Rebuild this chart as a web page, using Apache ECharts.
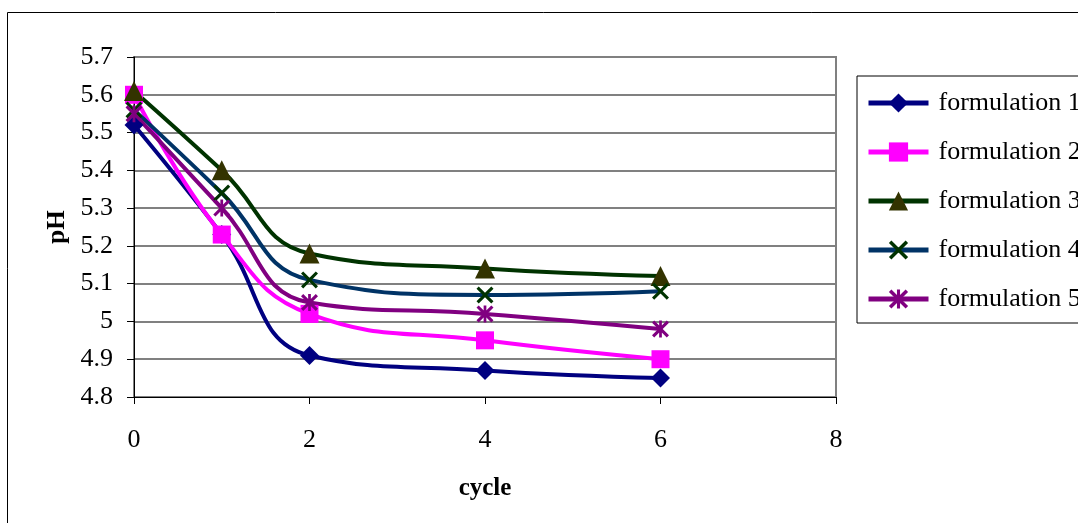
<!DOCTYPE html>
<html>
<head>
<meta charset="utf-8">
<script src="https://cdn.jsdelivr.net/npm/echarts@6/dist/echarts.min.js"></script>
<style>
  html, body { margin: 0; padding: 0; background: #fff; }
  #main { width: 1078px; height: 523px; }
</style>
</head>
<body>
<div id="main"></div>
<script>
// cycle values on the x axis
const cycles = [0, 1, 2, 4, 6];
const names = ['formulation 1', 'formulation 2', 'formulation 3', 'formulation 4', 'formulation 5'];
const f1 = [5.52, 5.23, 4.91, 4.87, 4.85];
const f2 = [5.60, 5.23, 5.02, 4.95, 4.90];
const f3 = [5.61, 5.40, 5.18, 5.14, 5.12];
const f4 = [5.56, 5.34, 5.11, 5.07, 5.08];
const f5 = [5.55, 5.30, 5.05, 5.02, 4.98];

const font = '"Liberation Serif", "Times New Roman", serif';
// x shaped and star shaped markers as filled paths
const xMark = 'path://M0,1.3L1.3,0L5,3.7L8.7,0L10,1.3L6.3,5L10,8.7L8.7,10L5,6.3L1.3,10L0,8.7L3.7,5Z';
const starMark = 'path://M0,1.3L1.3,0L5,3.7L8.7,0L10,1.3L6.3,5L10,8.7L8.7,10L5,6.3L1.3,10L0,8.7L3.7,5Z M4.2,0L5.8,0L5.8,10L4.2,10Z';

function pairs(vals) {
  return cycles.map((c, i) => [c, vals[i]]);
}

const styles = [
  { line: '#000080', mark: '#000080', symbol: 'diamond', size: 19 },
  { line: '#FF00FF', mark: '#FF00FF', symbol: 'rect', size: 18 },
  { line: '#003300', mark: '#333300', symbol: 'triangle', size: 20 },
  { line: '#003366', mark: '#003300', symbol: xMark, size: 17 },
  { line: '#800080', mark: '#800080', symbol: starMark, size: 17 }
];
const values = [f1, f2, f3, f4, f5];

const myChart = echarts.init(document.getElementById('main'));
myChart.setOption({
  animation: false,
  textStyle: { fontFamily: font },
  graphic: [{
    type: 'rect',
    shape: { x: 7.5, y: 12.5, width: 1200, height: 600 },
    style: { fill: 'none', stroke: '#000', lineWidth: 1 },
    silent: true
  }],
  grid: {
    left: 134, top: 57, right: 242, bottom: 126,
    show: true, borderColor: '#808080', borderWidth: 2
  },
  legend: {
    orient: 'vertical',
    left: 857, top: 76,
    data: names,
    itemWidth: 60, itemHeight: 24,
    itemGap: 23,
    padding: [14, 40, 11, 9],
    borderColor: '#000', borderWidth: 1,
    lineStyle: { width: 5 },
    textStyle: { fontFamily: font, fontSize: 26, color: '#000', lineHeight: 26, padding: [0, 0, 0, 5] }
  },
  xAxis: {
    type: 'value',
    min: 0, max: 8, interval: 2,
    name: 'cycle',
    nameLocation: 'middle',
    nameGap: 79,
    nameTextStyle: { fontFamily: font, fontSize: 25, fontWeight: 'bold', color: '#000' },
    axisLine: { lineStyle: { color: '#000', width: 1 } },
    axisTick: { show: true, inside: false, length: 7, lineStyle: { color: '#000' } },
    axisLabel: { fontFamily: font, fontSize: 26, color: '#000', margin: 30 },
    splitLine: { show: false }
  },
  yAxis: {
    type: 'value',
    min: 4.8, max: 5.7, interval: 0.1,
    name: 'pH',
    nameLocation: 'middle',
    nameGap: 64,
    nameTextStyle: { fontFamily: font, fontSize: 25, fontWeight: 'bold', color: '#000' },
    axisLine: { show: true, lineStyle: { color: '#000', width: 1 } },
    axisTick: { show: true, inside: false, length: 7, lineStyle: { color: '#000' } },
    axisLabel: {
      fontFamily: font, fontSize: 26, color: '#000', margin: 21,
      formatter: v => String(parseFloat(v.toFixed(1)))
    },
    splitLine: { show: true, lineStyle: { color: '#808080', width: 2 } }
  },
  series: values.map((vals, i) => ({
    name: names[i],
    type: 'line',
    data: pairs(vals),
    smooth: 0.45,
    symbol: styles[i].symbol,
    symbolSize: styles[i].size,
    showAllSymbol: true,
    lineStyle: { color: styles[i].line, width: 4 },
    itemStyle: { color: styles[i].mark, borderWidth: 0 }
  }))
});
</script>
</body>
</html>
